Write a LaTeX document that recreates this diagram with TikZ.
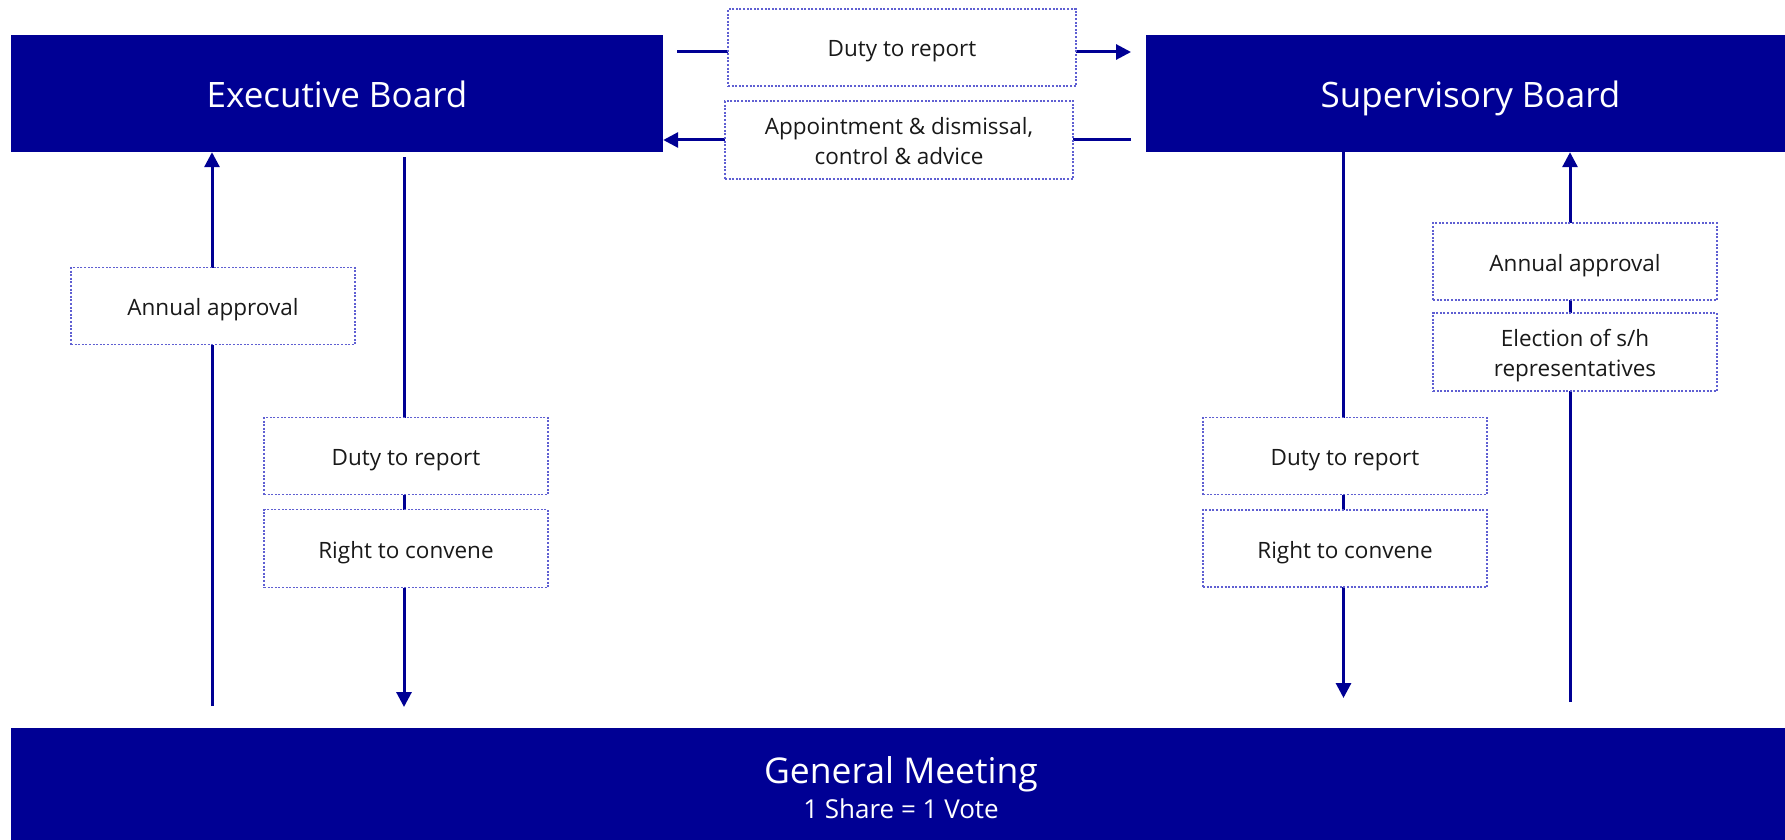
\documentclass[tikz,border=0pt]{standalone}
\usepackage{fontspec}
\setmainfont{Open Sans}
\usetikzlibrary{arrows.meta}
\definecolor{board}{RGB}{0,0,148}
\definecolor{dotc}{RGB}{95,95,210}
\definecolor{txt}{RGB}{25,25,25}
\begin{document}
\begin{tikzpicture}[x=1pt,y=-1pt,
  boardbox/.style={fill=board, text=white, inner sep=0pt, text height=36pt, text depth=8pt,
    font=\fontsize{35}{40}\selectfont},
  notebox/.style={draw=dotc, fill=white, line width=1.2pt, dash pattern=on 2pt off 1.6pt,
    inner sep=0pt, minimum width=284pt, minimum height=77pt, text=txt, align=center,
    text height=24pt, text depth=5pt, font=\fontsize{22.5}{29.5}\selectfont},
  twoline/.style={text height=53.5pt},
  widebox/.style={notebox, minimum width=348pt},
  gmtext/.style={text=white, inner sep=0pt, anchor=base},
  flow/.style={draw=board, line width=3pt, -{Triangle[length=15pt,width=15pt]}}]
\useasboundingbox (0,0) rectangle (1785,840);

% connector end points
\coordinate (dtl) at (677,52);
\coordinate (dtr) at (1131,52);
\coordinate (apr) at (1131,140);
\coordinate (lub) at (212,706);
\coordinate (ldt) at (404,157);
\coordinate (ldb) at (404,707);
\coordinate (rdb) at (1343.5,698);
\coordinate (rub) at (1570,702);

% boards
\node[boardbox, minimum width=652pt, minimum height=117pt] (exec) at (337,93.5) {Executive Board};
\node[boardbox, minimum width=649pt, minimum height=117pt] (sup) at (1470.5,93.5) {Supervisory Board};
\node[boardbox, minimum width=1774pt, minimum height=112pt] (gm) at (898,784) {};
\node[gmtext, font=\fontsize{35.5}{40}\selectfont] (gmt) at (901,783.3) {General Meeting};
\node[gmtext, font=\fontsize{26}{30}\selectfont] (gms) at (901,818.7) {1 Share = 1 Vote};

% connectors (drawn below the note boxes)
\draw[flow] (dtl) -- (dtr);
\draw[flow] (apr) -- (exec.east |- apr);
\draw[flow] (lub) -- (lub |- exec.south);
\draw[flow] (ldt) -- (ldb);
\draw[flow] (rdb |- sup.south) -- (rdb);
\draw[flow] (rub) -- (rub |- sup.south);

% note boxes
\node[widebox] (n1) at (902,47.5) {Duty to report};
\node[widebox, twoline, minimum height=78pt] (n2) at (899,140) {Appointment \& dismissal,\\control \& advice};
\node[notebox] (la) at (213,306) {Annual approval};
\node[notebox] (ld) at (406,456) {Duty to report};
\node[notebox, minimum height=78pt] (lr) at (406,548.5) {Right to convene};
\node[notebox] (ra) at (1575,261.5) {Annual approval};
\node[notebox, twoline, minimum height=78pt] (re) at (1575,352) {Election of s/h\\representatives};
\node[notebox] (rd) at (1345,456) {Duty to report};
\node[notebox] (rr) at (1345,548.5) {Right to convene};
\end{tikzpicture}
\end{document}
